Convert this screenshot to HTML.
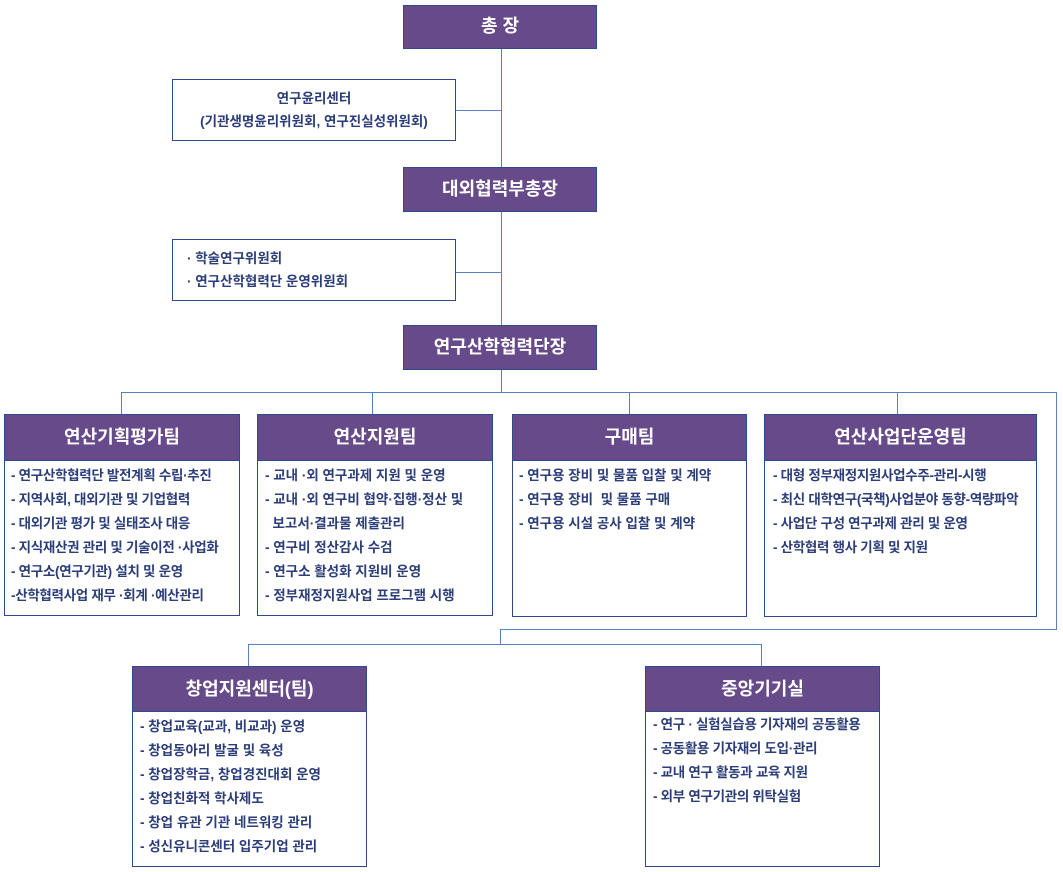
<html><head><style>
body{margin:0;width:1063px;height:872px;background:#fff;position:relative;font-family:"Liberation Sans","Noto Sans CJK KR",sans-serif;font-weight:bold;overflow:hidden}
.b{position:absolute;box-sizing:border-box;border:1.5px solid #2f4a8a;background:#fff}
.h{position:absolute;box-sizing:border-box;background:#674a8a;color:#fff;border:1.5px solid #2f4a8a;text-align:center;font-size:18px}
.l{position:absolute;background:#5b7fc4}
.t{position:absolute;font-size:13.5px;color:#2c3e7a;line-height:24px;white-space:nowrap}
</style></head><body>
<div class="l" style="left:501px;top:48px;width:1px;height:344px"></div>
<div class="l" style="left:455px;top:110px;width:46px;height:1px"></div>
<div class="l" style="left:455px;top:272px;width:46px;height:1px"></div>
<div class="l" style="left:121px;top:392px;width:936px;height:1px"></div>
<div class="l" style="left:1056px;top:392px;width:1px;height:237px"></div>
<div class="l" style="left:500px;top:629px;width:557px;height:1px"></div>
<div class="l" style="left:500px;top:629px;width:1px;height:15px"></div>
<div class="l" style="left:248px;top:644px;width:513px;height:1px"></div>
<div class="l" style="left:121px;top:392px;width:1px;height:22px"></div>
<div class="l" style="left:372px;top:392px;width:1px;height:22px"></div>
<div class="l" style="left:629px;top:392px;width:1px;height:22px"></div>
<div class="l" style="left:897px;top:392px;width:1px;height:22px"></div>
<div class="l" style="left:248px;top:644px;width:1px;height:22px"></div>
<div class="l" style="left:761px;top:644px;width:1px;height:22px"></div>

<div class="h" style="left:403px;top:5px;width:194px;height:44px;line-height:41px">총 장</div>
<div class="b" style="left:172px;top:79px;width:284px;height:62px;text-align:center;font-size:13.5px;color:#2c3e7a;padding-top:7px;line-height:23px">연구윤리센터<br>(기관생명윤리위원회, 연구진실성위원회)</div>
<div class="h" style="left:403px;top:167px;width:194px;height:45px;line-height:42px">대외협력부총장</div>
<div class="b" style="left:172px;top:239px;width:284px;height:62px;font-size:13.5px;color:#2c3e7a;padding:7px 0 0 14px;line-height:23px">· 학술연구위원회<br>· 연구산학협력단 운영위원회</div>
<div class="h" style="left:403px;top:325px;width:194px;height:45px;line-height:42px">연구산학협력단장</div>

<div class="b" style="left:4px;top:414px;width:236px;height:202px"></div>
<div class="h" style="left:4px;top:414px;width:236px;height:47px;line-height:45px">연산기획평가팀</div>
<div class="t" style="left:11px;top:464px;letter-spacing:-0.3px">- 연구산학협력단 발전계획 수립·추진<br>- 지역사회, 대외기관 및 기업협력<br>- 대외기관 평가 및 실태조사 대응<br>- 지식재산권 관리 및 기술이전 ·사업화<br>- 연구소(연구기관) 설치 및 운영<br>-산학협력사업 재무 ·회계 ·예산관리</div>

<div class="b" style="left:257px;top:414px;width:236px;height:202px"></div>
<div class="h" style="left:257px;top:414px;width:236px;height:47px;line-height:45px">연산지원팀</div>
<div class="t" style="left:265px;top:464px">- 교내 ·외 연구과제 지원 및 운영<br>- 교내 ·외 연구비 협약·집행·정산 및<br>&nbsp;&nbsp;보고서·결과물 제출관리<br>- 연구비 정산감사 수검<br>- 연구소 활성화 지원비 운영<br>- 정부재정지원사업 프로그램 시행</div>

<div class="b" style="left:512px;top:414px;width:235px;height:203px"></div>
<div class="h" style="left:512px;top:414px;width:235px;height:47px;line-height:45px">구매팀</div>
<div class="t" style="left:519px;top:464px">- 연구용 장비 및 물품 입찰 및 계약<br>- 연구용 장비 &nbsp;및 물품 구매<br>- 연구용 시설 공사 입찰 및 계약</div>

<div class="b" style="left:764px;top:414px;width:273px;height:203px"></div>
<div class="h" style="left:764px;top:414px;width:273px;height:47px;line-height:45px">연산사업단운영팀</div>
<div class="t" style="left:773px;top:464px;letter-spacing:-0.3px">- 대형 정부재정지원사업수주-관리-시행<br>- 최신 대학연구(국책)사업분야 동향-역량파악<br>- 사업단 구성 연구과제 관리 및 운영<br>- 산학협력 행사 기획 및 지원</div>

<div class="b" style="left:132px;top:666px;width:235px;height:201px"></div>
<div class="h" style="left:132px;top:666px;width:235px;height:46px;line-height:44px">창업지원센터(팀)</div>
<div class="t" style="left:140px;top:715px">- 창업교육(교과, 비교과) 운영<br>- 창업동아리 발굴 및 육성<br>- 창업장학금, 창업경진대회 운영<br>- 창업친화적 학사제도<br>- 창업 유관 기관 네트워킹 관리<br>- 성신유니콘센터 입주기업 관리</div>

<div class="b" style="left:645px;top:666px;width:235px;height:201px"></div>
<div class="h" style="left:645px;top:666px;width:235px;height:46px;line-height:44px">중앙기기실</div>
<div class="t" style="left:653px;top:713px;letter-spacing:-0.3px">- 연구 · 실험실습용 기자재의 공동활용<br>- 공동활용 기자재의 도입·관리<br>- 교내 연구 활동과 교육 지원<br>- 외부 연구기관의 위탁실험</div>
</body></html>
